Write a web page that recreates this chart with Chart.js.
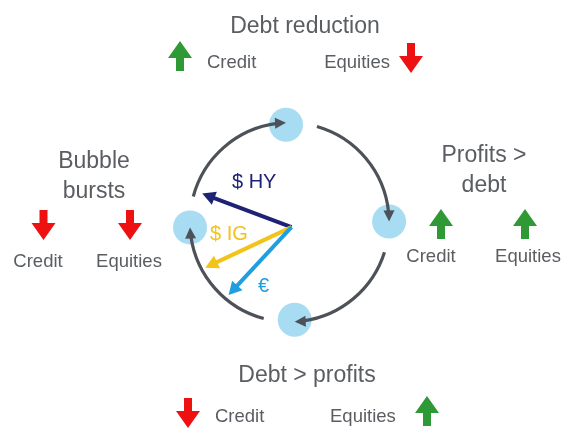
<!DOCTYPE html>
<html>
<head>
<meta charset="utf-8">
<script src="https://cdn.jsdelivr.net/npm/chart.js@4.4.1/dist/chart.umd.min.js"></script>
<style>
  html, body { margin: 0; padding: 0; background: #fff; }
  #cycle { display: block; }
</style>
</head>
<body>
<canvas id="cycle" width="563" height="428"></canvas>
<script>
// cycle phases, clockwise from the top
const phaseNames = [['Debt reduction'], ['Profits >', 'debt'], ['Debt > profits'], ['Bubble', 'bursts']];
const phaseAngles = [92, 0.5, -87, 183];   // degrees on the unit cycle
const creditMoves = [1, 1, -1, -1];        // 1 = up, -1 = down
const equityMoves = [-1, 1, 1, -1];
const assetLabels = ['Credit', 'Equities'];

// where each market sits now (vectors from the centre)
const flowNames = ['$ HY', '$ IG', '€'];
const flowAngles = [159, 205.6, 227.8];
const flowLengths = [0.96, 0.96, 0.94];
const flowOrigin = [0.02, -0.05];

// layout / style (pixels)
const R = 106, CX = 290, CY = 223;
const textGrey = '#5a5d61';
const upColor = '#2f9a35', downColor = '#ee1111';
const flowColors = ['#1d2275', '#f2c31a', '#1f9fe0'];
const flowLabelPos = [[232, 188], [210, 240], [258, 292]];
const phaseLayout = [
  { title: [305, 33], credit: { arrow: [180, 41], text: [207, 68, 'left'] }, equity: { arrow: [411, 43], text: [390, 68, 'right'] } },
  { title: [484, 162], credit: { arrow: [441, 209], text: [431, 262, 'center'] }, equity: { arrow: [525, 209], text: [528, 262, 'center'] } },
  { title: [307, 382], credit: { arrow: [188, 398], text: [215, 422, 'left'] }, equity: { arrow: [427, 396], text: [330, 422, 'left'] } }
  ,
  { title: [94, 168], credit: { arrow: [43.5, 210], text: [38, 267, 'center'] }, equity: { arrow: [130, 210], text: [129, 267, 'center'] } }
];
const rad = d => d * Math.PI / 180;

const drawUpDown = (ctx, cx, top, dir) => {
  const h = 30, hw = 12, headH = 17, sw = 4;
  ctx.save();
  ctx.fillStyle = dir > 0 ? upColor : downColor;
  ctx.beginPath();
  if (dir > 0) {
    ctx.moveTo(cx, top);
    ctx.lineTo(cx + hw, top + headH);
    ctx.lineTo(cx + sw, top + headH);
    ctx.lineTo(cx + sw, top + h);
    ctx.lineTo(cx - sw, top + h);
    ctx.lineTo(cx - sw, top + headH);
    ctx.lineTo(cx - hw, top + headH);
  } else {
    ctx.moveTo(cx - sw, top);
    ctx.lineTo(cx + sw, top);
    ctx.lineTo(cx + sw, top + h - headH);
    ctx.lineTo(cx + hw, top + h - headH);
    ctx.lineTo(cx, top + h);
    ctx.lineTo(cx - hw, top + h - headH);
    ctx.lineTo(cx - sw, top + h - headH);
  }
  ctx.closePath();
  ctx.fill();
  ctx.restore();
};

const drawHead = (ctx, x, y, ux, uy, len, half, color) => {
  ctx.fillStyle = color;
  ctx.beginPath();
  ctx.moveTo(x, y);
  ctx.lineTo(x - ux * len - uy * half, y - uy * len + ux * half);
  ctx.lineTo(x - ux * len + uy * half, y - uy * len - ux * half);
  ctx.closePath();
  ctx.fill();
};

const cyclePlugin = {
  id: 'cycle',
  afterDatasetsDraw(chart) {
    const ctx = chart.ctx;
    const xs = chart.scales.x, ys = chart.scales.y;
    const cx = xs.getPixelForValue(0), cy = ys.getPixelForValue(0);
    const r = xs.getPixelForValue(1) - cx;
    ctx.save();

    // arcs between phases
    const gap = 18, headLen = 11;
    phaseAngles.forEach((a, i) => {
      const start = a - gap;
      let end = phaseAngles[(i + 1) % phaseAngles.length];
      while (end >= start) end -= 360;
      const lineEnd = end + (headLen * 0.8 / r) * 180 / Math.PI;
      ctx.strokeStyle = '#4d5258';
      ctx.lineWidth = 3.2;
      ctx.beginPath();
      ctx.arc(cx, cy, r, -rad(start), -rad(lineEnd), false);
      ctx.stroke();
      const tx = cx + r * Math.cos(rad(end)), ty = cy - r * Math.sin(rad(end));
      drawHead(ctx, tx, ty, Math.sin(rad(end)), Math.cos(rad(end)), headLen, 5.5, '#4d5258');
    });

    // vectors
    const ox = xs.getPixelForValue(flowOrigin[0]), oy = ys.getPixelForValue(flowOrigin[1]);
    flowNames.forEach((name, i) => {
      const a = rad(flowAngles[i]);
      const tx = xs.getPixelForValue(flowOrigin[0] + flowLengths[i] * Math.cos(a));
      const ty = ys.getPixelForValue(flowOrigin[1] + flowLengths[i] * Math.sin(a));
      const ux = Math.cos(a), uy = -Math.sin(a);
      ctx.strokeStyle = flowColors[i];
      ctx.lineWidth = 4;
      ctx.beginPath();
      ctx.moveTo(ox, oy);
      ctx.lineTo(tx - ux * 10, ty - uy * 10);
      ctx.stroke();
      drawHead(ctx, tx, ty, ux, uy, 13, 7, flowColors[i]);
      ctx.font = '20px "Liberation Sans", Arial, sans-serif';
      ctx.textAlign = 'left';
      ctx.textBaseline = 'alphabetic';
      ctx.fillText(name, flowLabelPos[i][0], flowLabelPos[i][1]);
    });

    // phase titles, market arrows and labels
    phaseNames.forEach((lines, i) => {
      const lay = phaseLayout[i];
      ctx.fillStyle = textGrey;
      ctx.font = '23px "Liberation Sans", Arial, sans-serif';
      ctx.textAlign = 'center';
      lines.forEach((t, k) => ctx.fillText(t, lay.title[0], lay.title[1] + k * 30));
      [[lay.credit, creditMoves[i], assetLabels[0]], [lay.equity, equityMoves[i], assetLabels[1]]].forEach(([p, dir, label]) => {
        drawUpDown(ctx, p.arrow[0], p.arrow[1], dir);
        ctx.fillStyle = textGrey;
        ctx.font = '18.5px "Liberation Sans", Arial, sans-serif';
        ctx.textAlign = p.text[2];
        ctx.fillText(label, p.text[0], p.text[1]);
      });
    });
    ctx.restore();
  }
};

new Chart(document.getElementById('cycle'), {
  type: 'scatter',
  data: {
    datasets: [{
      label: 'phases',
      data: phaseAngles.map(a => ({ x: Math.cos(rad(a)), y: Math.sin(rad(a)) })),
      pointRadius: 17,
      pointHoverRadius: 17,
      pointBackgroundColor: '#a8dcf3',
      pointBorderWidth: 0
    }]
  },
  options: {
    responsive: false,
    animation: false,
    devicePixelRatio: 1,
    layout: { padding: 0 },
    plugins: { legend: { display: false }, tooltip: { enabled: false } },
    scales: {
      x: { display: false, min: -CX / R, max: (563 - CX) / R },
      y: { display: false, min: -(428 - CY) / R, max: CY / R }
    }
  },
  plugins: [cyclePlugin]
});
</script>
</body>
</html>
